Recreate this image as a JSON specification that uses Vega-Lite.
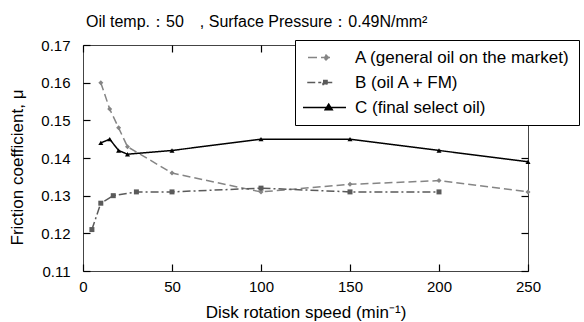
{
  "$schema": "https://vega.github.io/schema/vega-lite/v6.json",
  "autosize": {"type": "none"},
  "width": 445,
  "height": 226,
  "padding": {"left": 83, "top": 45, "right": 56, "bottom": 51},
  "title": {"text": "Oil temp.：50　, Surface Pressure：0.49N/mm²", "anchor": "start", "frame": "group", "dx": 3, "offset": 8, "fontSize": 16, "fontWeight": "normal", "color": "#000"},
  "data": {"values": [
    {"series": "A (general oil on the market)", "speed": 10, "mu": 0.160},
    {"series": "A (general oil on the market)", "speed": 15, "mu": 0.153},
    {"series": "A (general oil on the market)", "speed": 20, "mu": 0.148},
    {"series": "A (general oil on the market)", "speed": 25, "mu": 0.143},
    {"series": "A (general oil on the market)", "speed": 50, "mu": 0.136},
    {"series": "A (general oil on the market)", "speed": 100, "mu": 0.131},
    {"series": "A (general oil on the market)", "speed": 150, "mu": 0.133},
    {"series": "A (general oil on the market)", "speed": 200, "mu": 0.134},
    {"series": "A (general oil on the market)", "speed": 250, "mu": 0.131},
    {"series": "B (oil A + FM)", "speed": 5, "mu": 0.121},
    {"series": "B (oil A + FM)", "speed": 10, "mu": 0.128},
    {"series": "B (oil A + FM)", "speed": 17, "mu": 0.130},
    {"series": "B (oil A + FM)", "speed": 30, "mu": 0.131},
    {"series": "B (oil A + FM)", "speed": 50, "mu": 0.131},
    {"series": "B (oil A + FM)", "speed": 100, "mu": 0.132},
    {"series": "B (oil A + FM)", "speed": 150, "mu": 0.131},
    {"series": "B (oil A + FM)", "speed": 200, "mu": 0.131},
    {"series": "C (final select oil)", "speed": 10, "mu": 0.144},
    {"series": "C (final select oil)", "speed": 15, "mu": 0.145},
    {"series": "C (final select oil)", "speed": 20, "mu": 0.142},
    {"series": "C (final select oil)", "speed": 25, "mu": 0.141},
    {"series": "C (final select oil)", "speed": 50, "mu": 0.142},
    {"series": "C (final select oil)", "speed": 100, "mu": 0.145},
    {"series": "C (final select oil)", "speed": 150, "mu": 0.145},
    {"series": "C (final select oil)", "speed": 200, "mu": 0.142},
    {"series": "C (final select oil)", "speed": 250, "mu": 0.139}
  ]},
  "layer": [
    {
      "mark": {"type": "line", "strokeWidth": 1.5},
      "encoding": {
        "x": {"field": "speed", "type": "quantitative", "scale": {"domain": [0, 250], "nice": false},
              "axis": {"values": [0, 50, 100, 150, 200, 250], "orient": "bottom", "zindex": 1, "offset": -7, "ticks": true, "tickSize": 7, "tickColor": "#000", "tickWidth": 1.2, "tickOpacity": 1, "labelPadding": 8, "labelFlush": false, "labelFontSize": 15, "labelColor": "#000",
                       "title": "Disk rotation speed (min⁻¹)", "titleFontSize": 17, "titleFontWeight": "normal", "titleColor": "#000", "titleBaseline": "bottom", "titleY": 57, "grid": false, "domain": false}},
        "y": {"field": "mu", "type": "quantitative", "scale": {"domain": [0.11, 0.17], "nice": false, "zero": false},
              "axis": {"values": [0.11, 0.12, 0.13, 0.14, 0.15, 0.16, 0.17], "format": ".2f", "orient": "left", "zindex": 1, "offset": -7, "ticks": true, "tickSize": 7, "tickColor": "#000", "tickWidth": 1.2, "tickOpacity": 1, "labelPadding": 13, "labelFlush": false, "labelFontSize": 15, "labelColor": "#000",
                       "title": "Friction coefficient, μ", "titleFontSize": 17, "titleFontWeight": "normal", "titleColor": "#000", "titleX": -64, "titleY": 122, "titleAngle": -90, "titleBaseline": "bottom", "grid": false, "domain": false}},
        "color": {"field": "series", "type": "nominal",
                  "scale": {"range": ["#858585", "#5a5a5a", "#000000"]},
                  "legend": {"title": null, "orient": "none", "legendX": 212, "legendY": -5, "zindex": 2,
                             "strokeColor": "#000", "fillColor": "#fff", "padding": 9, "labelFontSize": 17, "labelColor": "#000", "labelOffset": 34, "labelLimit": 400,
                             "rowPadding": 7, "symbolSize": 225,
                             "encode": {"symbols": {"update": {
                               "shape": {"signal": "datum.value === 'A (general oil on the market)' ? 'M-0.6,0H2.73M1.8,-0.33L2.13,0L1.8,0.33L1.47,0Z' : datum.value === 'B (oil A + FM)' ? 'M-0.7,0H2.73M1.4,-0.27H1.94V0.27H1.4Z' : 'M-1.27,0H4.47M2.16,-0.45L2.63,0.3L1.69,0.3Z'"},
                               "strokeDash": {"signal": "datum.value === 'A (general oil on the market)' ? [9,4] : datum.value === 'B (oil A + FM)' ? [8,3,3,3] : [1,0]"},
                               "fill": {"signal": "scale('color', datum.value)"},
                               "stroke": {"signal": "scale('color', datum.value)"},
                               "strokeWidth": {"value": 1.5},
                               "opacity": {"value": 1}
                             }}}}},
        "strokeDash": {"field": "series", "type": "nominal", "scale": {"range": [[8, 4], [8, 3, 2, 3], [1, 0]]}, "legend": null}
      }
    },
    {
      "mark": {"type": "point", "filled": true, "opacity": 1},
      "encoding": {
        "x": {"field": "speed", "type": "quantitative", "axis": null},
        "y": {"field": "mu", "type": "quantitative", "axis": null},
        "color": {"field": "series", "type": "nominal"},
        "shape": {"field": "series", "type": "nominal", "scale": {"range": ["diamond", "square", "triangle-up"]}, "legend": null},
        "size": {"field": "series", "type": "nominal", "scale": {"range": [25, 25, 45]}, "legend": null}
      }
    },
    {
      "mark": {"type": "point", "opacity": 0},
      "encoding": {
        "x": {"field": "speed", "type": "quantitative",
              "axis": {"values": [0, 50, 100, 150, 200, 250], "orient": "top", "zindex": 1, "offset": -7, "ticks": true, "tickSize": 7, "tickColor": "#000", "tickWidth": 1.2, "tickOpacity": 1, "labels": false, "title": null, "grid": false, "domain": false}},
        "y": {"field": "mu", "type": "quantitative",
              "axis": {"values": [0.11, 0.12, 0.13, 0.14, 0.15, 0.16, 0.17], "orient": "right", "zindex": 1, "offset": -7, "ticks": true, "tickSize": 7, "tickColor": "#000", "tickWidth": 1.2, "tickOpacity": 1, "labels": false, "title": null, "grid": false, "domain": false}}
      }
    }
  ],
  "resolve": {"axis": {"x": "independent", "y": "independent"}},
  "config": {
    "font": "Liberation Sans",
    "view": {"stroke": "#444", "strokeWidth": 1}
  }
}
